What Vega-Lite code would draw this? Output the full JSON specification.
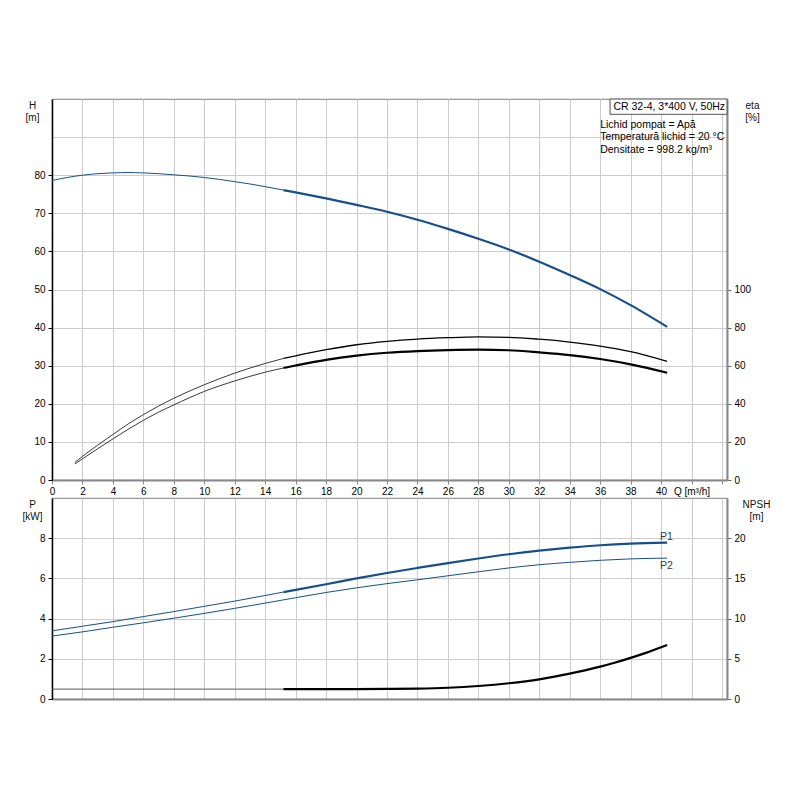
{
  "$schema": "https://vega.github.io/schema/vega-lite/v6.json",
  "padding": {"left": 21, "top": 97, "right": 5, "bottom": 5},
  "background": "white",
  "spacing": 0,
  "datasets": {
    "head": [
      {"Q": 0, "H": 78.6, "range": "outside"},
      {"Q": 1, "H": 79.4, "range": "outside"},
      {"Q": 2, "H": 80.0, "range": "outside"},
      {"Q": 3, "H": 80.4, "range": "outside"},
      {"Q": 4, "H": 80.6, "range": "outside"},
      {"Q": 5, "H": 80.7, "range": "outside"},
      {"Q": 6, "H": 80.6, "range": "outside"},
      {"Q": 7, "H": 80.4, "range": "outside"},
      {"Q": 8, "H": 80.1, "range": "outside"},
      {"Q": 9, "H": 79.8, "range": "outside"},
      {"Q": 10, "H": 79.4, "range": "outside"},
      {"Q": 11, "H": 78.9, "range": "outside"},
      {"Q": 12, "H": 78.3, "range": "outside"},
      {"Q": 13, "H": 77.7, "range": "outside"},
      {"Q": 14, "H": 77.0, "range": "outside"},
      {"Q": 15.2, "H": 76.1, "range": "outside"},
      {"Q": 15.2, "H": 76.1, "range": "operating"},
      {"Q": 16, "H": 75.5, "range": "operating"},
      {"Q": 18, "H": 73.9, "range": "operating"},
      {"Q": 20, "H": 72.2, "range": "operating"},
      {"Q": 22, "H": 70.4, "range": "operating"},
      {"Q": 24, "H": 68.3, "range": "operating"},
      {"Q": 26, "H": 65.9, "range": "operating"},
      {"Q": 28, "H": 63.3, "range": "operating"},
      {"Q": 30, "H": 60.5, "range": "operating"},
      {"Q": 32, "H": 57.3, "range": "operating"},
      {"Q": 34, "H": 53.8, "range": "operating"},
      {"Q": 36, "H": 50.1, "range": "operating"},
      {"Q": 38, "H": 45.9, "range": "operating"},
      {"Q": 40.4, "H": 40.2, "range": "operating"}
    ],
    "eff": [
      {"Q": 1.5, "eta": 9.2, "curve": "pump", "range": "outside"},
      {"Q": 2, "eta": 12.4, "curve": "pump", "range": "outside"},
      {"Q": 3, "eta": 18.3, "curve": "pump", "range": "outside"},
      {"Q": 4, "eta": 23.9, "curve": "pump", "range": "outside"},
      {"Q": 5, "eta": 29.4, "curve": "pump", "range": "outside"},
      {"Q": 6, "eta": 34.3, "curve": "pump", "range": "outside"},
      {"Q": 7, "eta": 38.8, "curve": "pump", "range": "outside"},
      {"Q": 8, "eta": 42.9, "curve": "pump", "range": "outside"},
      {"Q": 10, "eta": 50.0, "curve": "pump", "range": "outside"},
      {"Q": 12, "eta": 56.1, "curve": "pump", "range": "outside"},
      {"Q": 14, "eta": 61.2, "curve": "pump", "range": "outside"},
      {"Q": 15.2, "eta": 63.8, "curve": "pump", "range": "outside"},
      {"Q": 15.2, "eta": 63.8, "curve": "pump", "range": "operating"},
      {"Q": 16, "eta": 65.2, "curve": "pump", "range": "operating"},
      {"Q": 18, "eta": 68.4, "curve": "pump", "range": "operating"},
      {"Q": 20, "eta": 71.0, "curve": "pump", "range": "operating"},
      {"Q": 22, "eta": 72.8, "curve": "pump", "range": "operating"},
      {"Q": 24, "eta": 74.0, "curve": "pump", "range": "operating"},
      {"Q": 26, "eta": 74.7, "curve": "pump", "range": "operating"},
      {"Q": 28, "eta": 75.1, "curve": "pump", "range": "operating"},
      {"Q": 30, "eta": 74.9, "curve": "pump", "range": "operating"},
      {"Q": 32, "eta": 73.9, "curve": "pump", "range": "operating"},
      {"Q": 34, "eta": 72.4, "curve": "pump", "range": "operating"},
      {"Q": 36, "eta": 70.3, "curve": "pump", "range": "operating"},
      {"Q": 38, "eta": 67.4, "curve": "pump", "range": "operating"},
      {"Q": 40.4, "eta": 62.3, "curve": "pump", "range": "operating"},
      {"Q": 1.5, "eta": 8.4, "curve": "total", "range": "outside"},
      {"Q": 2, "eta": 11.1, "curve": "total", "range": "outside"},
      {"Q": 3, "eta": 16.4, "curve": "total", "range": "outside"},
      {"Q": 4, "eta": 21.6, "curve": "total", "range": "outside"},
      {"Q": 5, "eta": 26.6, "curve": "total", "range": "outside"},
      {"Q": 6, "eta": 31.3, "curve": "total", "range": "outside"},
      {"Q": 7, "eta": 35.6, "curve": "total", "range": "outside"},
      {"Q": 8, "eta": 39.4, "curve": "total", "range": "outside"},
      {"Q": 10, "eta": 46.5, "curve": "total", "range": "outside"},
      {"Q": 12, "eta": 52.0, "curve": "total", "range": "outside"},
      {"Q": 14, "eta": 56.6, "curve": "total", "range": "outside"},
      {"Q": 15.2, "eta": 58.8, "curve": "total", "range": "outside"},
      {"Q": 15.2, "eta": 58.8, "curve": "total", "range": "operating"},
      {"Q": 16, "eta": 60.1, "curve": "total", "range": "operating"},
      {"Q": 18, "eta": 63.1, "curve": "total", "range": "operating"},
      {"Q": 20, "eta": 65.3, "curve": "total", "range": "operating"},
      {"Q": 22, "eta": 66.8, "curve": "total", "range": "operating"},
      {"Q": 24, "eta": 67.7, "curve": "total", "range": "operating"},
      {"Q": 26, "eta": 68.2, "curve": "total", "range": "operating"},
      {"Q": 28, "eta": 68.4, "curve": "total", "range": "operating"},
      {"Q": 30, "eta": 68.1, "curve": "total", "range": "operating"},
      {"Q": 32, "eta": 67.0, "curve": "total", "range": "operating"},
      {"Q": 34, "eta": 65.6, "curve": "total", "range": "operating"},
      {"Q": 36, "eta": 63.5, "curve": "total", "range": "operating"},
      {"Q": 38, "eta": 60.7, "curve": "total", "range": "operating"},
      {"Q": 40.4, "eta": 56.3, "curve": "total", "range": "operating"}
    ],
    "power": [
      {"Q": 0, "P": 3.39, "curve": "P1", "range": "outside"},
      {"Q": 2, "P": 3.62, "curve": "P1", "range": "outside"},
      {"Q": 4, "P": 3.85, "curve": "P1", "range": "outside"},
      {"Q": 6, "P": 4.10, "curve": "P1", "range": "outside"},
      {"Q": 8, "P": 4.35, "curve": "P1", "range": "outside"},
      {"Q": 10, "P": 4.61, "curve": "P1", "range": "outside"},
      {"Q": 12, "P": 4.87, "curve": "P1", "range": "outside"},
      {"Q": 14, "P": 5.15, "curve": "P1", "range": "outside"},
      {"Q": 15.2, "P": 5.32, "curve": "P1", "range": "outside"},
      {"Q": 15.2, "P": 5.32, "curve": "P1", "range": "operating"},
      {"Q": 16, "P": 5.43, "curve": "P1", "range": "operating"},
      {"Q": 18, "P": 5.71, "curve": "P1", "range": "operating"},
      {"Q": 20, "P": 6.00, "curve": "P1", "range": "operating"},
      {"Q": 22, "P": 6.27, "curve": "P1", "range": "operating"},
      {"Q": 24, "P": 6.52, "curve": "P1", "range": "operating"},
      {"Q": 26, "P": 6.76, "curve": "P1", "range": "operating"},
      {"Q": 28, "P": 6.99, "curve": "P1", "range": "operating"},
      {"Q": 30, "P": 7.20, "curve": "P1", "range": "operating"},
      {"Q": 32, "P": 7.38, "curve": "P1", "range": "operating"},
      {"Q": 34, "P": 7.53, "curve": "P1", "range": "operating"},
      {"Q": 36, "P": 7.65, "curve": "P1", "range": "operating"},
      {"Q": 38, "P": 7.73, "curve": "P1", "range": "operating"},
      {"Q": 40.4, "P": 7.78, "curve": "P1", "range": "operating"},
      {"Q": 0, "P": 3.13, "curve": "P2", "range": "outside"},
      {"Q": 2, "P": 3.34, "curve": "P2", "range": "outside"},
      {"Q": 4, "P": 3.57, "curve": "P2", "range": "outside"},
      {"Q": 6, "P": 3.79, "curve": "P2", "range": "outside"},
      {"Q": 8, "P": 4.02, "curve": "P2", "range": "outside"},
      {"Q": 10, "P": 4.26, "curve": "P2", "range": "outside"},
      {"Q": 12, "P": 4.51, "curve": "P2", "range": "outside"},
      {"Q": 14, "P": 4.77, "curve": "P2", "range": "outside"},
      {"Q": 16, "P": 5.04, "curve": "P2", "range": "outside"},
      {"Q": 18, "P": 5.30, "curve": "P2", "range": "outside"},
      {"Q": 20, "P": 5.53, "curve": "P2", "range": "outside"},
      {"Q": 22, "P": 5.74, "curve": "P2", "range": "outside"},
      {"Q": 24, "P": 5.93, "curve": "P2", "range": "outside"},
      {"Q": 26, "P": 6.13, "curve": "P2", "range": "outside"},
      {"Q": 28, "P": 6.33, "curve": "P2", "range": "outside"},
      {"Q": 30, "P": 6.52, "curve": "P2", "range": "outside"},
      {"Q": 32, "P": 6.68, "curve": "P2", "range": "outside"},
      {"Q": 34, "P": 6.80, "curve": "P2", "range": "outside"},
      {"Q": 36, "P": 6.90, "curve": "P2", "range": "outside"},
      {"Q": 38, "P": 6.97, "curve": "P2", "range": "outside"},
      {"Q": 40.4, "P": 7.01, "curve": "P2", "range": "outside"}
    ],
    "npsh": [
      {"Q": 0, "NPSH": 1.23, "range": "outside"},
      {"Q": 15.2, "NPSH": 1.23, "range": "outside"},
      {"Q": 15.2, "NPSH": 1.23, "range": "operating"},
      {"Q": 18, "NPSH": 1.22, "range": "operating"},
      {"Q": 20, "NPSH": 1.23, "range": "operating"},
      {"Q": 22, "NPSH": 1.25, "range": "operating"},
      {"Q": 24, "NPSH": 1.29, "range": "operating"},
      {"Q": 26, "NPSH": 1.40, "range": "operating"},
      {"Q": 28, "NPSH": 1.62, "range": "operating"},
      {"Q": 30, "NPSH": 1.96, "range": "operating"},
      {"Q": 32, "NPSH": 2.45, "range": "operating"},
      {"Q": 33, "NPSH": 2.78, "range": "operating"},
      {"Q": 34, "NPSH": 3.15, "range": "operating"},
      {"Q": 35, "NPSH": 3.56, "range": "operating"},
      {"Q": 36, "NPSH": 4.02, "range": "operating"},
      {"Q": 37, "NPSH": 4.54, "range": "operating"},
      {"Q": 38, "NPSH": 5.12, "range": "operating"},
      {"Q": 39, "NPSH": 5.74, "range": "operating"},
      {"Q": 40.4, "NPSH": 6.71, "range": "operating"}
    ],
    "caption": [
      {"Q": 36.65, "Qend": 44.33, "H": 100, "Hend": 95.98}
    ],
    "notes": [
      {"Q": 36.87, "H": 97.98, "text": "CR 32-4, 3*400 V, 50Hz"},
      {"Q": 36.0, "H": 93.2, "text": "Lichid pompat = Apă"},
      {"Q": 36.0, "H": 89.9, "text": "Temperatură lichid = 20 °C"},
      {"Q": 36.0, "H": 86.7, "text": "Densitate = 998.2 kg/m³"}
    ],
    "powerLabels": [
      {"Q": 40.35, "P": 8.05, "text": "P1"},
      {"Q": 40.35, "P": 6.6, "text": "P2"}
    ]
  },
  "vconcat": [
    {
      "width": 675,
      "height": 381,
      "encoding": {
        "x": {
          "field": "Q", "type": "quantitative",
          "scale": {"domain": [0, 44.33], "nice": false, "zero": false},
          "axis": {
            "title": null,
            "values": [0, 2, 4, 6, 8, 10, 12, 14, 16, 18, 20, 22, 24, 26, 28, 30, 32, 34, 36, 38, 40, 42, 44],
            "labelExpr": "datum.value == 42 ? 'Q [m³/h]' : (datum.value > 42 ? '' : datum.label)",
            "domainColor": "#888", "domainWidth": 2,
            "tickColor": "#888", "tickSize": 4,
            "labelPadding": 2
          }
        }
      },
      "layer": [
        {
          "encoding": {
            "y": {
              "field": "H", "type": "quantitative",
              "scale": {"domain": [0, 100], "nice": false},
              "axis": {
                "title": ["H", "[m]"],
                "values": [0, 10, 20, 30, 40, 50, 60, 70, 80, 90],
                "labelExpr": "datum.value > 80 ? '' : datum.label",
                "tickOpacity": {"condition": {"test": "datum.value > 80", "value": 0}, "value": 1},
                "titleAngle": 0, "titleX": -20, "titleY": 1,
                "titleAlign": "center", "titleBaseline": "top",
                "domainColor": "#000", "domainWidth": 1.5,
                "tickColor": "#000", "tickSize": 4,
                "labelPadding": 3
              }
            }
          },
          "layer": [
            {
              "data": {"name": "head"},
              "transform": [{"filter": "datum.range == 'outside'"}],
              "mark": {"type": "line", "color": "#164f8b", "strokeWidth": 1, "interpolate": "monotone"}
            },
            {
              "data": {"name": "head"},
              "transform": [{"filter": "datum.range == 'operating'"}],
              "mark": {"type": "line", "color": "#164f8b", "strokeWidth": 2.2, "interpolate": "monotone"}
            },
            {
              "data": {"name": "caption"},
              "mark": {"type": "rect", "fill": "white", "stroke": "#555", "strokeWidth": 1},
              "encoding": {
                "x2": {"field": "Qend"},
                "y2": {"field": "Hend"}
              }
            },
            {
              "data": {"name": "notes"},
              "mark": {"type": "text", "align": "left", "baseline": "middle", "font": "Liberation Sans", "fontSize": 10.5, "color": "#000"},
              "encoding": {"text": {"field": "text"}}
            }
          ]
        },
        {
          "data": {"name": "eff"},
          "encoding": {
            "y": {
              "field": "eta", "type": "quantitative",
              "scale": {"domain": [0, 200], "nice": false},
              "axis": {
                "orient": "right",
                "title": ["eta", "[%]"],
                "values": [0, 20, 40, 60, 80, 100],
                "grid": false,
                "titleAngle": 0, "titleX": 25, "titleY": 1,
                "titleAlign": "center", "titleBaseline": "top",
                "domainColor": "#888", "domainWidth": 2,
                "tickColor": "#666", "tickSize": 4,
                "labelPadding": 3
              }
            },
            "detail": {"field": "curve"}
          },
          "layer": [
            {
              "transform": [{"filter": "datum.range == 'outside'"}],
              "mark": {"type": "line", "color": "#222", "strokeWidth": 0.9, "interpolate": "monotone"}
            },
            {
              "transform": [{"filter": "datum.range == 'operating' && datum.curve == 'pump'"}],
              "mark": {"type": "line", "color": "#000", "strokeWidth": 1.3, "interpolate": "monotone"}
            },
            {
              "transform": [{"filter": "datum.range == 'operating' && datum.curve == 'total'"}],
              "mark": {"type": "line", "color": "#000", "strokeWidth": 2.2, "interpolate": "monotone"}
            }
          ]
        }
      ],
      "resolve": {"scale": {"y": "independent"}}
    },
    {
      "width": 675,
      "height": 201,
      "encoding": {
        "x": {
          "field": "Q", "type": "quantitative",
          "scale": {"domain": [0, 44.33], "nice": false, "zero": false},
          "axis": {
            "title": null,
            "values": [0, 2, 4, 6, 8, 10, 12, 14, 16, 18, 20, 22, 24, 26, 28, 30, 32, 34, 36, 38, 40, 42, 44],
            "labels": false, "ticks": false,
            "domainColor": "#888", "domainWidth": 2
          }
        }
      },
      "layer": [
        {
          "encoding": {
            "y": {
              "field": "P", "type": "quantitative",
              "scale": {"domain": [0, 10], "nice": false},
              "axis": {
                "title": ["P", "[kW]"],
                "values": [0, 2, 4, 6, 8],
                "titleAngle": 0, "titleX": -20, "titleY": 1,
                "titleAlign": "center", "titleBaseline": "top",
                "domainColor": "#000", "domainWidth": 1.5,
                "tickColor": "#000", "tickSize": 4,
                "labelPadding": 3
              }
            }
          },
          "layer": [
            {
              "data": {"name": "power"},
              "transform": [{"filter": "datum.range == 'outside'"}],
              "mark": {"type": "line", "color": "#164f8b", "strokeWidth": 1, "interpolate": "monotone"},
              "encoding": {"detail": {"field": "curve"}}
            },
            {
              "data": {"name": "power"},
              "transform": [{"filter": "datum.range == 'operating'"}],
              "mark": {"type": "line", "color": "#164f8b", "strokeWidth": 2.2, "interpolate": "monotone"},
              "encoding": {"detail": {"field": "curve"}}
            },
            {
              "data": {"name": "powerLabels"},
              "mark": {"type": "text", "align": "center", "baseline": "middle", "font": "Liberation Sans", "fontSize": 10.5, "color": "#1f3d66"},
              "encoding": {"text": {"field": "text"}}
            }
          ]
        },
        {
          "data": {"name": "npsh"},
          "encoding": {
            "y": {
              "field": "NPSH", "type": "quantitative",
              "scale": {"domain": [0, 25], "nice": false},
              "axis": {
                "orient": "right",
                "title": ["NPSH", "[m]"],
                "values": [0, 5, 10, 15, 20],
                "grid": false,
                "titleAngle": 0, "titleX": 29, "titleY": 1,
                "titleAlign": "center", "titleBaseline": "top",
                "domainColor": "#888", "domainWidth": 2,
                "tickColor": "#666", "tickSize": 4,
                "labelPadding": 3
              }
            }
          },
          "layer": [
            {
              "transform": [{"filter": "datum.range == 'outside'"}],
              "mark": {"type": "line", "color": "#555", "strokeWidth": 1, "interpolate": "monotone"}
            },
            {
              "transform": [{"filter": "datum.range == 'operating'"}],
              "mark": {"type": "line", "color": "#000", "strokeWidth": 2.2, "interpolate": "monotone"}
            }
          ]
        }
      ],
      "resolve": {"scale": {"y": "independent"}}
    }
  ],
  "resolve": {"scale": {"x": "shared"}},
  "config": {
    "view": {"stroke": "#999", "strokeWidth": 1.2},
    "axis": {
      "labelFont": "Liberation Sans",
      "labelFontSize": 10,
      "labelColor": "#000",
      "titleFont": "Liberation Sans",
      "titleFontSize": 10,
      "titleFontWeight": "normal",
      "titleColor": "#111",
      "titleLineHeight": 12,
      "gridColor": "#cccccc",
      "gridWidth": 1,
      "labelOverlap": false,
      "labelFlush": false,
      "labelBound": false
    }
  }
}
